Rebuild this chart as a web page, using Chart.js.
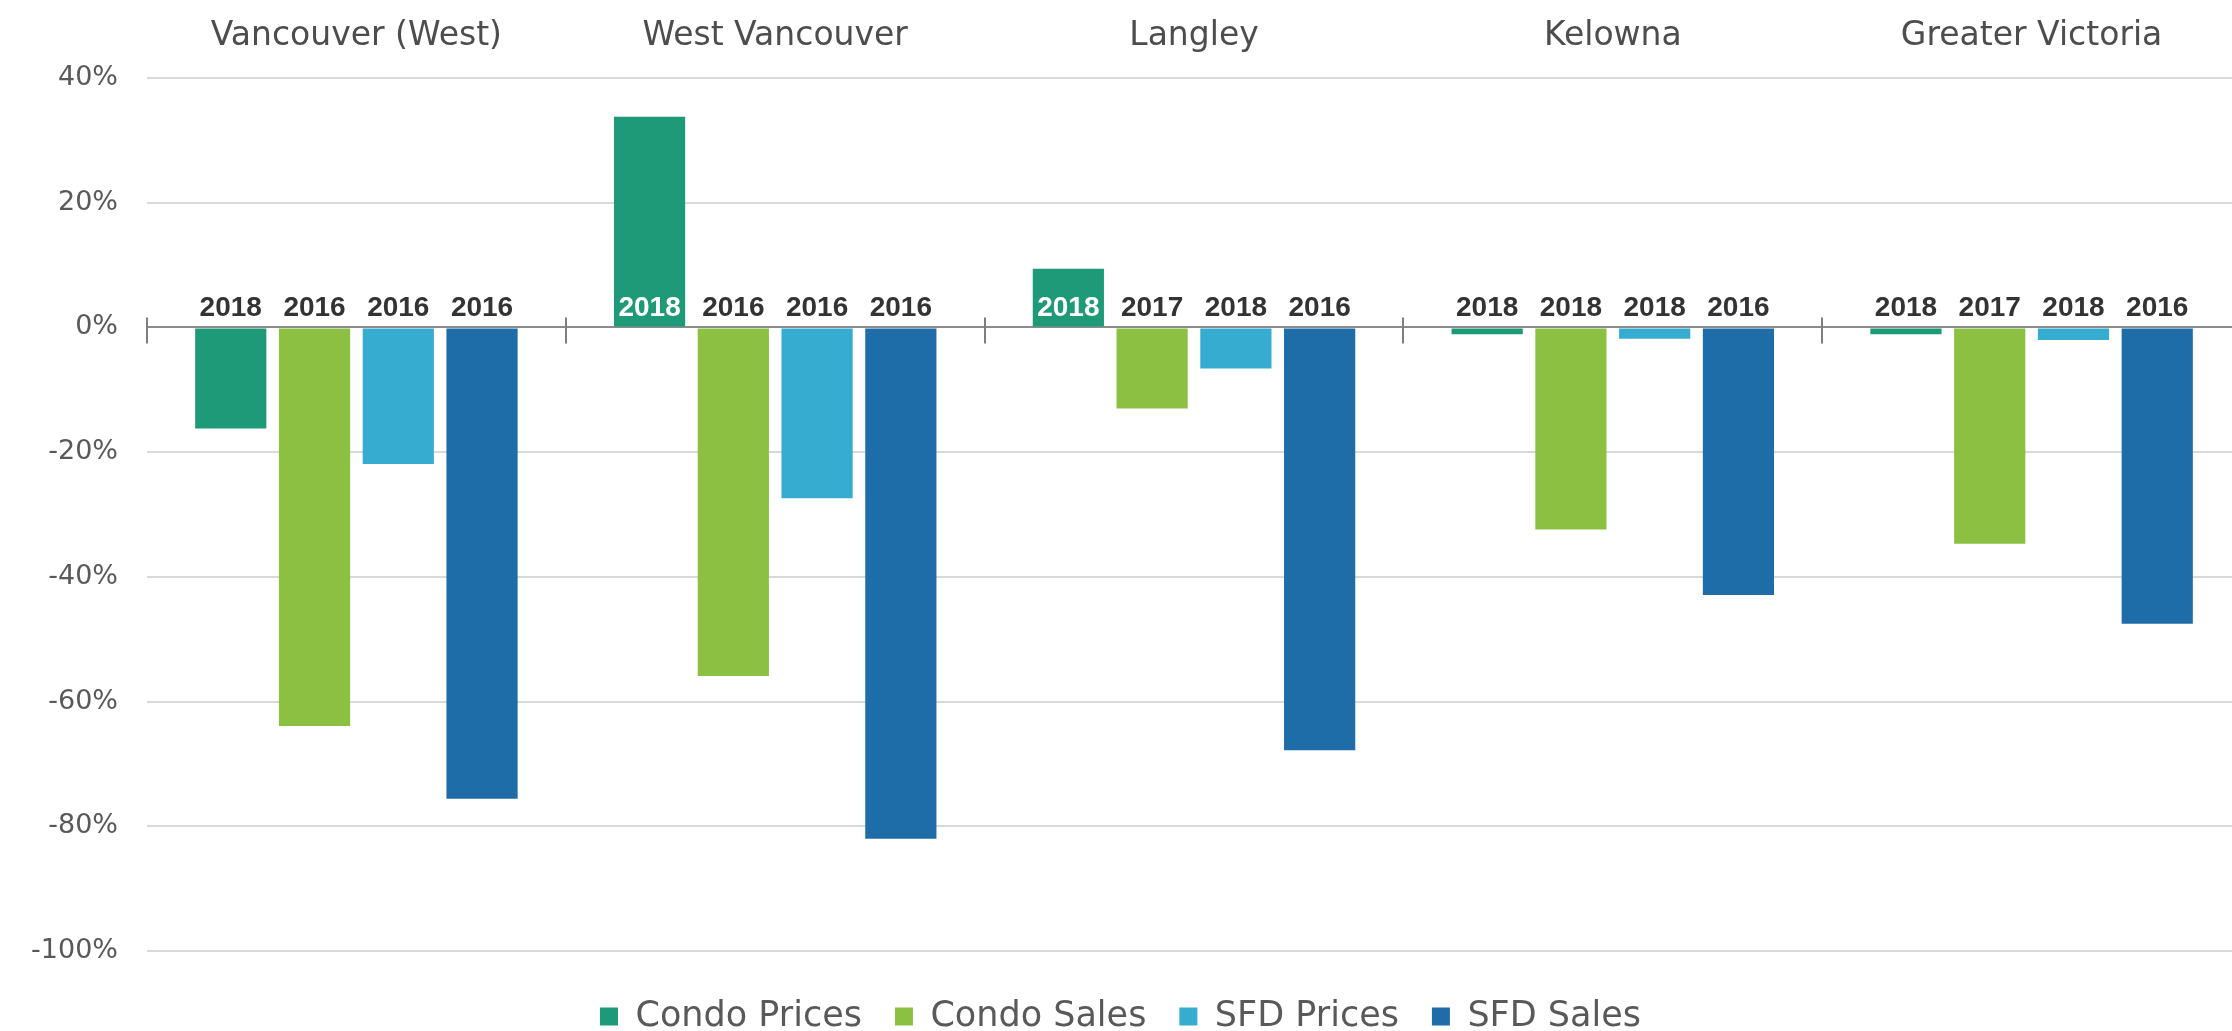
<!DOCTYPE html>
<html>
<head>
<meta charset="utf-8">
<title>Condo and SFD change</title>
<script src="https://cdn.jsdelivr.net/npm/chart.js@4.4.1/dist/chart.umd.min.js"></script>
<style>
  html, body { margin: 0; padding: 0; background: #fff; overflow: hidden; }
  #wrap { position: relative; width: 2241px; height: 1044px; }
</style>
</head>
<body>
<div id="wrap"><canvas id="myChart"></canvas></div>
<script>
/* data */
var categories = ['Vancouver (West)', 'West Vancouver', 'Langley', 'Kelowna', 'Greater Victoria'];
var seriesNames = ['Condo Prices', 'Condo Sales', 'SFD Prices', 'SFD Sales'];

var condoPrices = [-16.2, 33.8, 9.4, -1.1, -1.1];
var condoSales = [-63.9, -55.9, -13.0, -32.4, -34.7];
var sfdPrices = [-21.9, -27.4, -6.6, -1.8, -2.0];
var sfdSales = [-75.6, -82.0, -67.8, -42.9, -47.5];

var condoPricesYear = ['2018', '2018', '2018', '2018', '2018'];
var condoSalesYear = ['2016', '2016', '2017', '2018', '2017'];
var sfdPricesYear = ['2016', '2016', '2018', '2018', '2018'];
var sfdSalesYear = ['2016', '2016', '2016', '2016', '2016'];

var yMin = -100, yMax = 40, yStep = 20;

var kleuren = ['#1F9A78', '#8CC043', '#36ACD1', '#1F6DA8'];
var waarden = [condoPrices, condoSales, sfdPrices, sfdSales];
var jaren = [condoPricesYear, condoSalesYear, sfdPricesYear, sfdSalesYear];

var grijs = '#595959';

/* year labels just above the zero line */
var jaarLabels = {
    id: 'jaarLabels',
    afterDatasetsDraw: function(chart) {
        var ctx = chart.ctx;
        var nul = chart.scales.y.getPixelForValue(0);
        ctx.save();
        ctx.font = 'bold 28px "Liberation Sans", Arial, sans-serif';
        ctx.textAlign = 'center';
        ctx.textBaseline = 'alphabetic';
        chart.data.datasets.forEach(function(ds, i) {
            var meta = chart.getDatasetMeta(i);
            meta.data.forEach(function(bar, j) {
                ctx.fillStyle = ds.data[j] > 3 ? '#ffffff' : '#333333';
                ctx.fillText(jaren[i][j], bar.x, nul - 11);
            });
        });
        ctx.restore();
    }
};

/* small ticks on the zero line between the cities */
var scheiding = {
    id: 'scheiding',
    afterDraw: function(chart) {
        var ctx = chart.ctx;
        var x = chart.scales.x;
        var nul = chart.scales.y.getPixelForValue(0);
        ctx.save();
        ctx.strokeStyle = '#7f7f7f';
        ctx.lineWidth = 2;
        for (var i = 0; i <= categories.length; i++) {
            var px = Math.round(x.getPixelForValue(i - 0.5));
            ctx.beginPath();
            ctx.moveTo(px, nul - 10);
            ctx.lineTo(px, nul + 16);
            ctx.stroke();
        }
        ctx.restore();
    }
};

var ctx = document.getElementById('myChart').getContext('2d');
var chart = new Chart(ctx, {
    type: 'bar',
    data: {
        labels: categories,
        datasets: seriesNames.map(function(naam, i) {
            return {
                label: naam,
                data: waarden[i],
                backgroundColor: kleuren[i],
                borderWidth: 0,
                categoryPercentage: 0.8,
                barPercentage: 0.85
            };
        })
    },
    options: {
        responsive: true,
        maintainAspectRatio: false,
        animation: false,
        layout: { padding: 0 },
        plugins: {
            tooltip: { enabled: false },
            legend: {
                position: 'bottom',
                labels: {
                    boxWidth: 18,
                    boxHeight: 18,
                    padding: 33,
                    color: grijs,
                    font: { family: '"DejaVu Sans", sans-serif', size: 35 }
                }
            }
        },
        scales: {
            x: {
                axis: 'x',
                type: 'category',
                position: { y: 0 },
                offset: true,
                ticks: { display: false },
                grid: { display: false },
                border: { display: true, color: '#8c8c8c', width: 2 }
            },
            x2: {
                axis: 'x',
                type: 'category',
                labels: categories,
                position: 'top',
                offset: true,
                grid: { display: false, drawTicks: false },
                border: { display: false },
                ticks: {
                    padding: 22,
                    color: '#4d4d4d',
                    font: { family: '"DejaVu Sans", sans-serif', size: 33 }
                },
                afterFit: function(scale) { scale.height = 78; }
            },
            // lege as onderaan, alleen als ruimte boven de legenda
            x3: {
                axis: 'x',
                type: 'category',
                labels: categories,
                position: 'bottom',
                offset: true,
                grid: { display: false, drawTicks: false },
                border: { display: false },
                ticks: { display: false },
                afterFit: function(scale) { scale.height = 15; }
            },
            y: {
                min: yMin,
                max: yMax,
                ticks: {
                    stepSize: yStep,
                    padding: 29,
                    color: grijs,
                    font: { family: '"DejaVu Sans", sans-serif', size: 27 },
                    callback: function(v) { return v + '%'; }
                },
                grid: { color: '#d9d9d9', lineWidth: 2, drawTicks: false },
                border: { display: false },
                afterFit: function(scale) { scale.width = 147; }
            }
        }
    },
    plugins: [jaarLabels, scheiding]
});
</script>
</body>
</html>
